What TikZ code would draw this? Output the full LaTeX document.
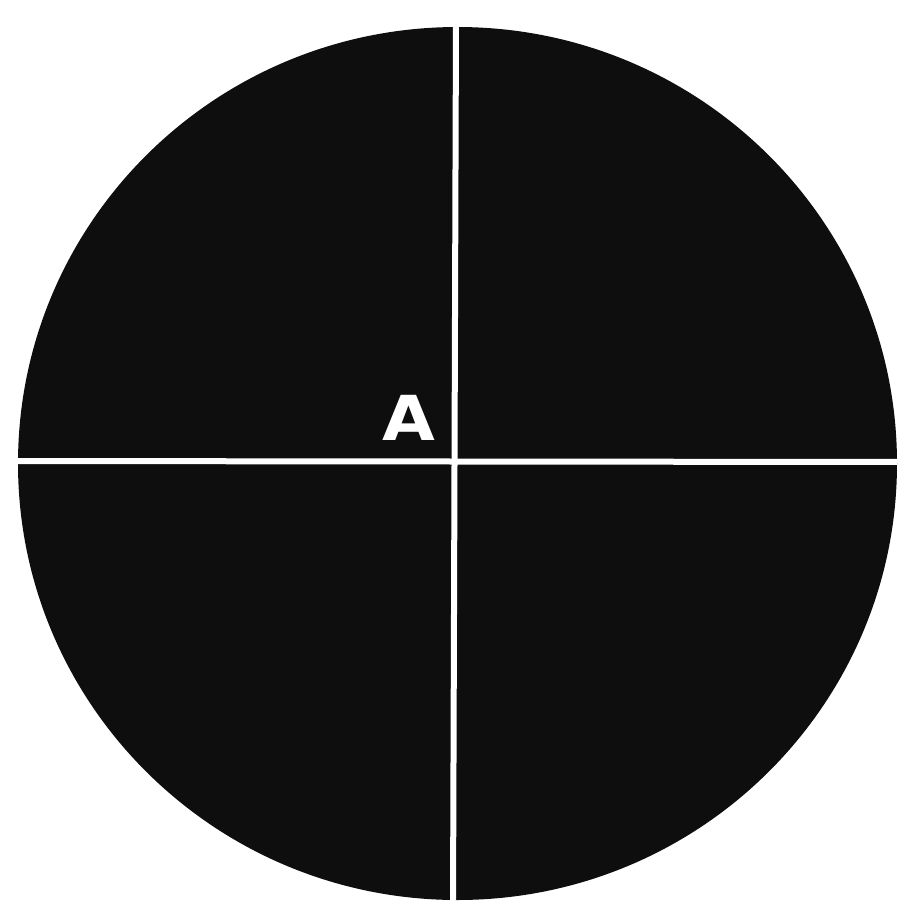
\documentclass[tikz,border=0pt]{standalone}
\usepackage{fontspec}
\setmainfont{DejaVu Sans}
\definecolor{disk}{HTML}{0E0E0E}
\tikzset{
  cross/.style={draw=white,line width=6pt},
  lab/.style={text=white,font=\fontsize{62}{62}\selectfont\bfseries,inner sep=0pt,xscale=1.1}
}
\begin{document}
\begin{tikzpicture}[x=1pt,y=-1pt]
\useasboundingbox (0,0) rectangle (913,922);
\fill[disk] (457.5,463.5) ellipse [x radius=439.5, y radius=436.5];
\begin{scope}
\clip (457.5,463.5) ellipse [x radius=439.5, y radius=436.5];
\coordinate (top) at (456,20);
\coordinate (bot) at (453,910);
\coordinate (lft) at (10,461);
\coordinate (rgt) at (905,462);
\draw[cross] (top) -- (bot);
\draw[cross] (lft) -- (rgt);
\end{scope}
\node[lab] (A) at (409,418) {A};
\end{tikzpicture}
\end{document}
